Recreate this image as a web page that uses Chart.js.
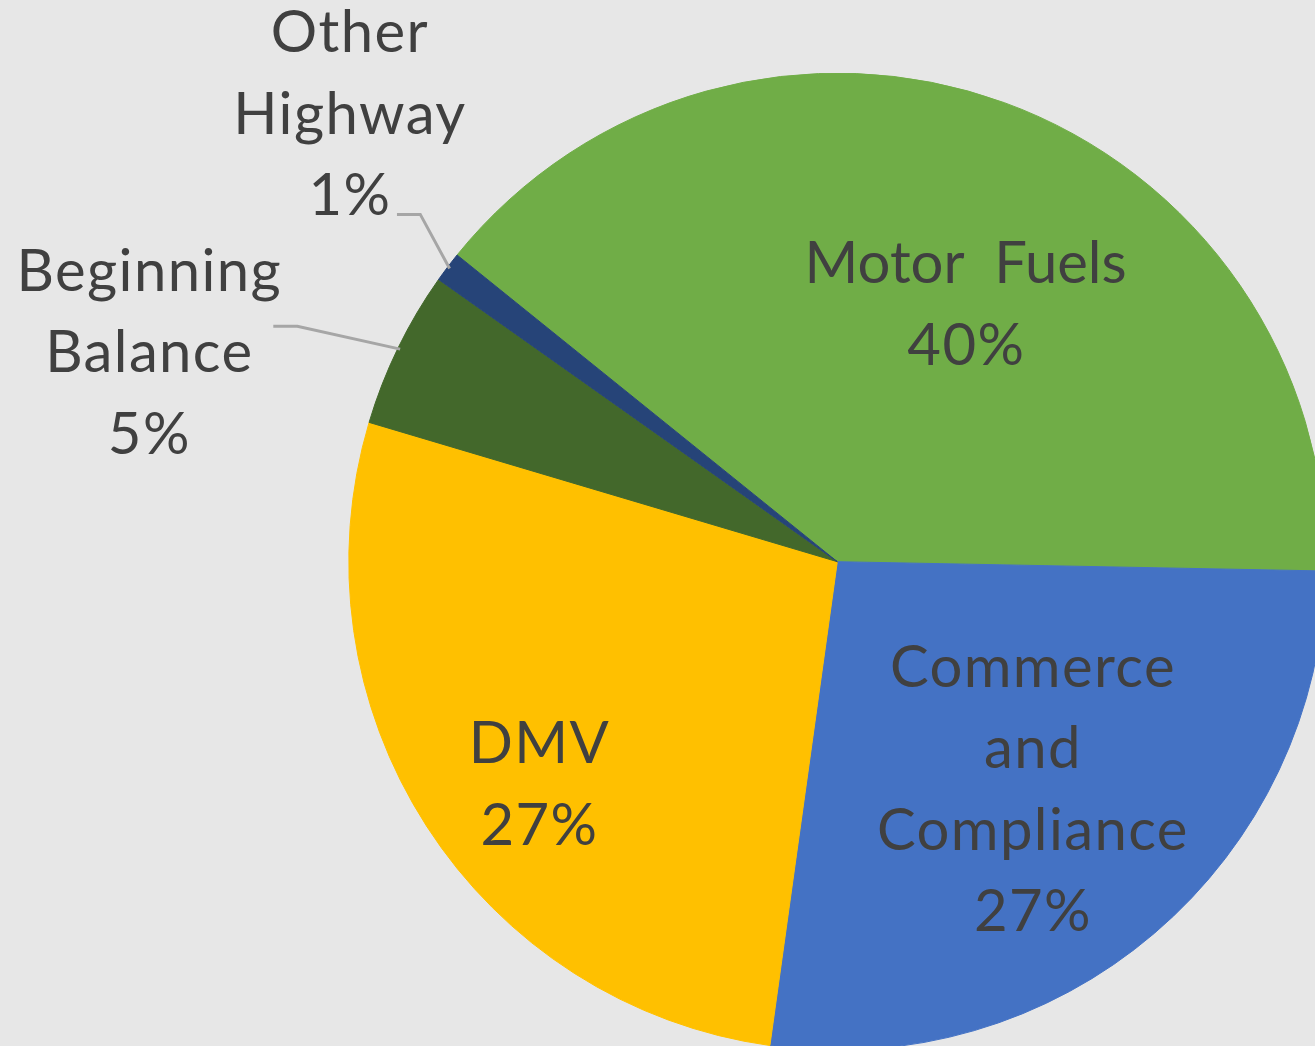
<!DOCTYPE html>
<html>
<head>
<meta charset="utf-8">
<script src="https://cdn.jsdelivr.net/npm/chart.js@4.4.1/dist/chart.umd.min.js"></script>
<style>
  html, body { margin:0; padding:0; width:1315px; height:1046px; overflow:hidden; background:#e7e7e7; }
  #wrap { position:absolute; left:0; top:0; width:1340px; height:1100px; }
</style>
</head>
<body>
<div id="wrap"><canvas id="c" width="1340" height="1100"></canvas></div>
<script>
// ---- data ----
const categories = ["Motor Fuels", "Commerce and Compliance", "DMV", "Beginning Balance", "Other Highway"];
const values = [39.5, 26.9, 27.4, 5.2, 1.0];
const percentLabels = ["40%", "27%", "27%", "5%", "1%"];
const labelLines = [["Motor Fuels"], ["Commerce", "and", "Compliance"], ["DMV"], ["Beginning", "Balance"], ["Other", "Highway"]];
const colors = ["#70ad47", "#4472c4", "#ffc000", "#43682b", "#264478"];

// label placement (polar, relative to slice mid-angle) - styling only
const labelPlace = [
  { rf: 0.591, dAng: 6.4 },
  { rf: 0.612, dAng: -0.2 },
  { rf: 0.761, dAng: -3.8 },
  { rf: 1.474, dAng: -8.96, leader: [[124.7, -25.3], [148.7, -25.3]] },
  { rf: 1.357, dAng: 5.5, leader: [[47.7, 101.3], [71, 101.3]] }
];

const FONT_FAMILY = "Lato, 'Open Sans', sans-serif";
const FONT_SIZE = 58;
const LINE_H = 81.5;
const CAP = 0.717;
const SPACING = 1.4;

const labelPlugin = {
  id: 'sliceLabels',
  afterDatasetsDraw(chart) {
    const ctx = chart.ctx;
    const meta = chart.getDatasetMeta(0);
    ctx.save();
    ctx.font = FONT_SIZE + "px " + FONT_FAMILY;
    ctx.fillStyle = "#404040";
    ctx.textAlign = "center";
    ctx.textBaseline = "alphabetic";
    meta.data.forEach((arc, i) => {
      const p = arc.getProps(['x', 'y', 'startAngle', 'endAngle', 'outerRadius'], true);
      const mid = (p.startAngle + p.endAngle) / 2;
      const pl = labelPlace[i];
      const a = mid + pl.dAng * Math.PI / 180;
      const ax = p.x + Math.cos(a) * pl.rf * p.outerRadius;
      const ay = p.y + Math.sin(a) * pl.rf * p.outerRadius;
      const lines = labelLines[i].concat([percentLabels[i]]);
      const n = lines.length;
      lines.forEach((t, k) => {
        const by = ay + (k - (n - 1) / 2) * LINE_H + CAP * FONT_SIZE / 2;
        const isMF = t === "Motor Fuels";
        const sp = isMF ? 0 : SPACING;
        ctx.letterSpacing = sp + "px";
        const txt = isMF ? "Motor  Fuels" : t;
        ctx.fillText(txt, ax + sp / 2, by);
      });
      if (pl.leader) {
        const ex = p.x + Math.cos(mid) * p.outerRadius * 0.995;
        const ey = p.y + Math.sin(mid) * p.outerRadius * 0.995;
        ctx.beginPath();
        ctx.strokeStyle = "#a6a6a6";
        ctx.lineWidth = 3;
        ctx.lineJoin = "miter";
        ctx.moveTo(ax + pl.leader[0][0], ay + pl.leader[0][1]);
        ctx.lineTo(ax + pl.leader[1][0], ay + pl.leader[1][1]);
        ctx.lineTo(ex, ey);
        ctx.stroke();
      }
    });
    ctx.restore();
  }
};

new Chart(document.getElementById('c'), {
  type: 'pie',
  data: {
    labels: categories,
    datasets: [{
      data: values,
      backgroundColor: colors,
      borderColor: colors,
      borderWidth: 1
    }]
  },
  options: {
    responsive: false,
    animation: false,
    devicePixelRatio: 1,
    rotation: 308.89,
    layout: { padding: { left: 348.3, top: 72.7, right: 13.7, bottom: 49.3 } },
    plugins: { legend: { display: false }, tooltip: { enabled: false } }
  },
  plugins: [labelPlugin]
});
</script>
</body>
</html>
